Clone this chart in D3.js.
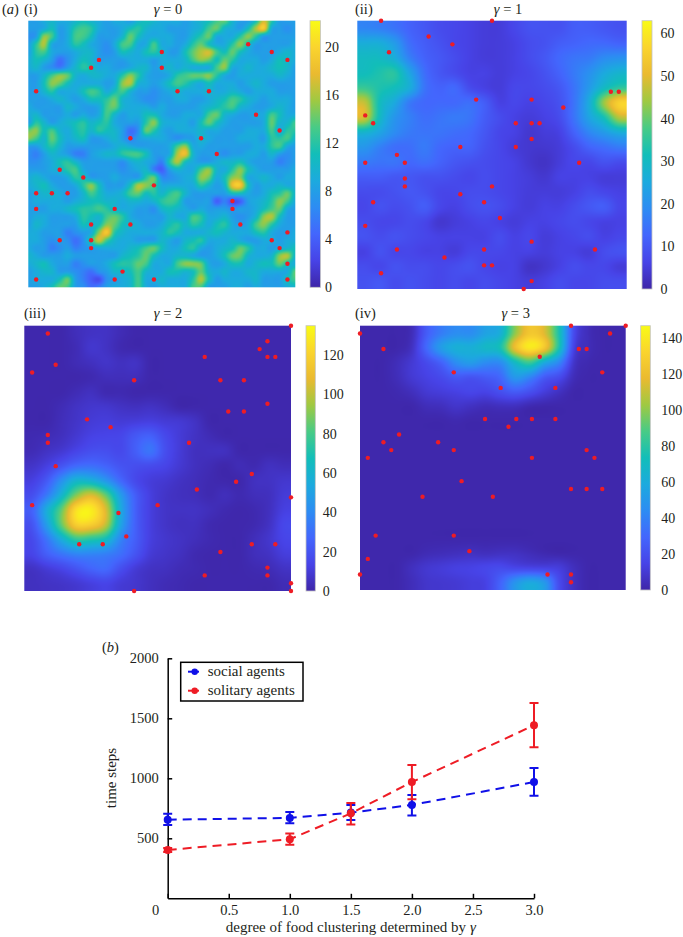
<!DOCTYPE html>
<html>
<head>
<meta charset="utf-8">
<script src="https://cdn.jsdelivr.net/npm/d3@7/dist/d3.min.js"></script>
<style>
body { margin:0; background:#fff; }
svg, .axis, .cbar { font-family:"Liberation Serif", serif; }
svg { display:block; fill:#231f20; }
.lab { font-size:14.5px; }
.cbar text { font-size:14px; fill:#231f20; }
.axis text { font-size:14.5px; fill:#231f20; }
</style>
</head>
<body>
<script>
// heat values, row 0 is the top of the panel
const heatI=[
[8,8,9,10,9,9,10,11,10,9,8,9,9,8,10,11,10,9,9,9,8,9,10,11,13,14,10,8,8,11,17,12,8,8,8],
[8,8,9,11,8,9,12,13,12,9,8,8,9,11,12,10,9,9,8,8,8,9,10,13,14,10,9,8,11,16,19,9,8,7,8],
[7,8,15,13,8,9,13,13,11,8,8,8,10,14,11,9,9,9,9,8,8,10,12,14,9,9,9,12,15,12,8,8,8,8,8],
[8,12,16,9,8,9,12,11,9,8,7,9,13,13,9,9,13,9,9,8,9,12,14,11,9,9,12,15,11,8,8,8,8,8,9],
[8,12,13,9,8,8,9,10,10,8,7,8,11,10,9,11,12,10,8,8,11,14,16,17,13,11,14,11,9,8,8,8,9,10,9],
[9,11,10,8,5,7,9,11,10,8,8,8,8,9,9,9,8,9,9,9,10,13,15,14,11,14,12,9,9,9,8,9,11,10,9],
[9,10,8,7,6,8,10,12,11,9,9,8,8,9,10,10,8,9,10,9,10,9,9,9,13,15,9,9,10,9,9,10,11,10,8],
[8,8,10,13,15,14,10,9,10,10,9,9,12,15,12,9,8,8,9,12,13,14,14,15,12,9,8,9,9,9,9,9,10,9,8],
[8,8,11,15,14,11,9,9,9,9,8,9,15,16,10,9,8,9,11,13,12,10,9,11,9,9,9,8,9,10,9,8,8,8,8],
[8,8,10,12,9,9,9,11,13,12,9,11,13,10,8,8,7,8,9,10,9,9,9,10,9,9,10,9,8,9,9,9,8,8,8],
[8,8,8,9,10,9,8,9,11,11,12,14,10,9,8,7,7,8,8,9,9,8,8,9,10,11,13,12,10,9,8,9,9,9,8],
[9,8,8,8,8,10,9,8,8,9,13,14,10,9,9,9,8,9,8,8,8,8,9,10,11,12,13,10,9,8,8,9,10,9,8],
[9,10,8,8,8,9,8,9,8,9,13,10,8,9,9,11,11,9,8,8,9,9,9,13,14,10,9,8,8,9,9,13,11,9,9],
[8,12,10,8,9,10,11,12,10,11,12,9,8,8,8,12,15,10,9,9,9,8,11,14,11,9,8,8,8,8,9,14,10,10,13],
[14,15,11,13,10,9,11,12,10,12,11,10,8,5,7,14,12,9,8,9,9,9,10,9,9,8,8,8,9,9,9,13,9,12,12],
[15,13,10,14,11,9,10,11,8,8,9,10,8,6,8,9,9,9,8,7,8,8,10,9,8,8,8,9,9,9,8,12,12,13,10],
[8,8,10,12,10,8,8,8,8,8,8,9,10,9,8,8,8,8,9,13,15,9,9,8,8,8,8,8,8,9,9,12,13,9,8],
[7,6,8,10,9,8,6,6,8,9,10,10,12,13,13,11,8,8,9,16,18,10,8,8,8,7,8,8,9,9,8,10,8,7,8],
[7,7,8,9,11,12,10,8,8,8,8,8,7,9,10,9,8,6,12,16,11,9,8,8,9,10,10,11,9,8,8,8,6,7,8],
[8,8,8,9,10,12,13,9,8,8,8,8,7,8,9,10,6,4,8,10,9,9,13,15,10,9,12,15,11,9,8,8,8,8,9],
[9,10,9,8,8,9,12,11,8,8,8,9,8,8,8,12,14,7,7,8,9,10,15,14,9,11,15,15,9,9,10,9,8,9,9],
[9,10,11,9,8,8,9,12,15,11,8,8,8,11,16,15,13,9,9,9,9,9,12,10,8,10,18,19,11,8,9,9,10,9,9],
[8,9,10,10,9,8,8,10,13,11,9,9,10,13,14,11,12,10,12,13,10,8,8,8,8,8,11,11,9,8,9,11,12,14,10],
[8,9,9,9,9,8,9,10,11,11,10,10,9,10,10,9,10,12,13,12,8,8,8,8,4,6,3,4,8,9,10,12,15,13,9],
[8,8,8,9,9,10,11,12,12,13,12,10,9,9,8,8,7,10,11,10,9,8,9,8,8,8,7,8,8,9,11,13,14,9,8],
[8,9,9,8,8,8,9,12,11,10,13,14,12,9,8,8,8,8,10,9,9,13,12,9,9,10,8,7,8,10,15,16,11,8,8],
[8,10,9,8,8,8,8,11,10,11,15,14,11,10,9,8,8,9,11,12,10,12,11,9,11,12,9,8,9,13,15,12,9,8,8],
[9,9,8,8,8,6,7,8,9,15,19,12,10,9,9,9,9,10,12,11,9,9,9,10,11,10,9,9,9,11,12,9,8,8,9],
[9,9,8,7,8,7,5,7,12,17,13,10,9,9,8,8,8,10,9,8,10,11,12,9,9,9,10,9,8,8,9,9,8,9,9],
[9,8,8,6,7,8,6,7,8,9,9,9,9,10,11,13,14,11,9,9,11,12,9,8,9,10,11,14,12,9,9,8,9,10,11],
[10,9,8,8,8,9,8,8,8,8,8,8,10,11,12,14,11,9,9,10,10,9,8,8,9,11,14,14,10,9,9,10,15,16,10],
[9,10,11,9,8,8,6,7,8,8,9,11,12,12,14,13,9,9,9,13,15,15,14,9,8,9,11,11,9,10,11,11,14,11,9],
[8,9,10,10,8,8,7,6,5,7,8,10,10,11,13,10,9,9,11,11,10,11,14,10,9,10,9,9,10,10,9,9,9,9,14],
[8,9,9,9,11,14,8,6,4,3,7,8,9,10,13,9,9,10,9,9,9,12,16,11,8,9,9,9,9,10,8,8,8,11,13],
[8,8,9,11,14,13,8,7,5,6,8,9,9,10,13,9,8,9,9,9,9,13,13,8,8,8,9,9,8,9,8,8,8,9,10]
];
const heatII=[
[18,17,15,12,10,8,7,6,5,5,7,9,9,9,11,11,10,9],
[26,26,22,14,11,9,7,6,5,5,6,8,9,11,12,13,13,12],
[30,30,26,17,12,10,8,6,5,5,6,8,10,13,15,16,19,20],
[31,33,34,24,14,10,8,6,6,5,6,7,9,12,16,20,25,28],
[36,33,31,26,15,12,13,8,6,5,7,7,8,10,15,22,30,35],
[47,31,25,16,13,13,13,14,11,6,7,6,7,9,15,26,44,56],
[48,30,21,17,14,15,16,15,11,8,6,5,6,8,15,24,32,46],
[28,24,19,16,15,15,14,13,10,7,6,4,5,6,12,18,22,26],
[21,17,14,14,16,13,12,12,9,7,5,4,4,5,8,12,14,16],
[16,15,15,13,14,12,10,9,8,7,6,4,3,5,7,7,9,8],
[11,11,10,10,9,9,8,7,8,7,6,5,4,6,6,6,5,5],
[8,8,9,10,9,7,7,8,8,7,6,5,5,5,6,8,7,6],
[7,9,8,9,11,7,6,8,9,8,6,5,6,6,8,10,11,7],
[8,7,7,8,7,4,5,6,7,6,5,6,6,7,8,7,6,6],
[9,8,9,8,7,6,6,6,6,8,6,7,5,6,7,8,6,7],
[6,9,7,7,6,6,5,7,7,7,6,6,5,6,6,5,8,9],
[8,7,9,8,8,7,8,9,7,6,6,3,4,6,8,7,7,5],
[9,10,8,9,8,7,8,7,8,7,6,5,6,8,7,7,8,8]
];
const heatIII=[
[1,1,1,4,6,6,3,1,1,1,1,1,1,1,1,1,1,1],
[1,1,1,3,8,6,2,1,1,1,1,1,1,1,1,1,1,1],
[1,1,1,3,5,7,5,6,1,1,1,1,1,1,1,1,1,1],
[1,1,1,1,2,4,4,4,1,1,1,1,1,1,1,1,1,1],
[1,1,1,3,5,2,2,1,1,1,1,1,1,1,1,1,1,1],
[1,1,3,6,8,8,6,5,6,4,1,1,1,1,1,1,1,1],
[1,1,4,7,10,11,10,11,12,10,9,6,1,1,1,1,1,1],
[2,3,5,9,13,14,15,22,25,16,10,6,3,1,1,1,1,1],
[3,6,9,14,18,18,16,24,32,18,10,5,5,5,1,1,1,1],
[7,12,20,28,30,26,20,18,17,14,9,5,3,1,3,2,5,4],
[12,22,42,60,58,45,28,16,11,9,6,4,2,1,1,5,6,8],
[18,34,60,90,105,85,48,24,12,7,5,4,2,4,2,4,5,10],
[25,55,85,125,130,105,55,25,12,7,6,6,4,2,1,2,5,12],
[20,48,85,118,118,100,52,25,12,7,5,5,2,1,1,2,6,15],
[16,32,55,75,72,65,38,24,12,8,6,4,2,1,1,4,8,14],
[14,24,32,38,38,36,30,20,10,7,5,2,1,1,1,4,6,11],
[6,10,14,20,26,28,18,10,6,5,3,2,1,1,1,2,3,6],
[5,6,7,9,12,14,10,8,5,3,2,1,1,1,1,1,1,3]
];
const heatIV=[
[1,1,1,4,25,38,45,45,55,62,100,125,115,75,18,4,1,1],
[1,1,1,6,30,52,62,62,68,75,120,140,125,75,14,4,1,1],
[1,1,4,10,18,28,45,52,45,45,70,85,60,42,8,2,1,1],
[1,1,4,10,14,18,24,22,25,30,50,42,25,18,4,1,1,1],
[1,1,2,5,10,12,14,16,15,20,25,20,12,6,1,1,1,1],
[1,1,1,1,4,5,8,6,4,5,5,2,1,1,1,1,1,1],
[1,1,1,1,1,1,2,1,1,1,1,1,1,1,1,1,1,1],
[1,1,1,1,1,1,1,1,1,1,1,1,1,1,1,1,1,1],
[1,1,1,1,1,1,1,1,1,1,1,1,1,1,1,1,1,1],
[1,1,1,1,1,1,1,1,1,1,1,1,1,1,1,1,1,1],
[1,1,1,1,1,1,1,1,1,1,1,1,1,1,1,1,1,1],
[1,1,1,1,1,1,1,1,1,1,1,1,1,1,1,1,1,1],
[1,1,1,1,1,1,1,1,1,1,1,1,1,1,1,1,1,1],
[1,1,1,1,1,1,1,1,1,1,1,1,1,1,1,1,1,1],
[1,1,1,1,1,1,1,1,1,1,1,1,1,1,1,1,1,1],
[1,1,1,1,3,4,5,6,5,6,6,4,2,1,1,1,1,1],
[1,1,1,5,9,11,13,14,16,18,16,15,14,12,5,1,1,1],
[1,1,1,4,8,9,10,12,14,28,48,58,50,18,6,1,1,1]
];

// food items on the 0..34 lattice, [column, row up from the bottom]
const foodI=[[28,31],[17,30],[31,30],[9,29],[33,29],[8,28],[17,28],[1,25],[19,25],[23,25],[29,22],[32,20],[13,19],[22,19],[24,17],[4,15],[7,14],[16,13],[1,12],[3,12],[5,12],[26,11],[1,10],[11,10],[26,10],[8,8],[13,8],[27,8],[33,7],[4,6],[8,6],[31,6],[8,5],[32,5],[33,3],[12,2],[1,1],[11,1],[16,1],[33,1]];
const foodII=[[3,34],[17,34],[9,32],[12,31],[4,30],[15,24],[22,24],[32,25],[33,25],[26,23],[1,22],[2,21],[20,21],[22,21],[23,21],[22,19],[13,18],[20,18],[5,17],[1,16],[6,16],[28,16],[6,14],[6,13],[17,13],[13,12],[2,11],[16,11],[18,9],[1,8],[22,6],[5,5],[16,5],[30,5],[11,4],[16,3],[17,3],[3,2],[22,1],[21,0]];
const foodIII=[[34,34],[3,33],[31,32],[30,31],[23,30],[31,30],[32,30],[4,29],[1,28],[14,27],[25,27],[28,27],[31,24],[26,23],[28,23],[8,22],[11,21],[3,20],[3,19],[21,19],[4,16],[29,15],[27,14],[22,13],[34,12],[1,11],[17,11],[12,10],[13,7],[7,6],[10,6],[29,6],[32,6],[25,5],[31,3],[23,2],[31,2],[34,1],[14,0],[34,0]];
const foodIV=[[27,34],[34,34],[0,33],[32,33],[3,31],[28,31],[29,31],[23,30],[12,28],[31,28],[18,26],[25,26],[16,22],[20,22],[22,22],[25,22],[19,21],[5,20],[3,19],[10,19],[4,18],[12,18],[29,18],[1,17],[22,17],[30,17],[13,14],[27,13],[29,13],[31,13],[8,12],[17,12],[2,7],[12,7],[14,5],[1,4],[0,2],[24,2],[27,2],[27,1]];

// colour bar ticks
const ticksI=[0,4,8,12,16,20];
const ticksII=[0,10,20,30,40,50,60];
const ticksIII=[0,20,40,60,80,100,120];
const ticksIV=[0,20,40,60,80,100,120,140];

// panel (b)
const gammas=[0,1,1.5,2,3];
const socialMean=[655,670,714,778,969];
const socialLow=[611,625,653,689,855];
const socialHigh=[705,720,778,861,1086];
const solitaryMean=[403,492,708,969,1442];
const solitaryLow=[385,447,614,825,1258];
const solitaryHigh=[420,539,794,1111,1628];
const xTicks=[0,0.5,1,1.5,2,2.5,3];
const yTicks=[500,1000,1500,2000];

const parula=["#3e26a8","#4743e7","#4366fd","#2d8cf3","#1caade","#12beb9","#48cb86","#9fc942","#eaba30","#fad42e","#f9fb15"];

const svgTag=d3.select("body").append("svg").attr("width",683).attr("height",937);

function colorScale(max) {
    return d3.scaleLinear()
        .domain(parula.map((c,i)=>max*i/(parula.length-1)))
        .range(parula)
        .clamp(true);
}

function cubic(a,b,c,d,t) {
    return b+0.5*t*(c-a+t*(2*a-5*b+4*c-d+t*(3*(b-c)+d-a)));
}

// sample the hand read grid at pixel resolution so colours go through the map
function heatImage(grid,max,w,h,onNodes) {
    const n=grid.length;
    const color=colorScale(max);
    const canvas=document.createElement("canvas");
    canvas.width=w; canvas.height=h;
    const ctx=canvas.getContext("2d");
    const img=ctx.createImageData(w,h);
    const at=(r,c)=>grid[Math.max(0,Math.min(n-1,r))][Math.max(0,Math.min(n-1,c))];
    const toGrid=u=>onNodes ? u*(n-1) : u*n-0.5;
    for (let py=0; py<h; py++) {
        const fy=toGrid((py+0.5)/h), r=Math.floor(fy), ty=fy-r;
        for (let px=0; px<w; px++) {
            const fx=toGrid((px+0.5)/w), c=Math.floor(fx), tx=fx-c;
            const rows=[-1,0,1,2].map(k=>cubic(at(r+k,c-1),at(r+k,c),at(r+k,c+1),at(r+k,c+2),tx));
            const rgb=d3.rgb(color(cubic(rows[0],rows[1],rows[2],rows[3],ty)));
            const o=(py*w+px)*4;
            img.data[o]=rgb.r; img.data[o+1]=rgb.g; img.data[o+2]=rgb.b; img.data[o+3]=255;
        }
    }
    ctx.putImageData(img,0,0);
    return canvas.toDataURL();
}

function drawPanel(p) {
    const x=d3.scaleLinear().domain([0,34]).range([p.x0,p.x1]);
    const y=d3.scaleLinear().domain([0,34]).range([p.y1,p.y0]);
    const w=Math.round(p.x1-p.x0), h=Math.round(p.y1-p.y0);

    svgTag.append("image")
        .attr("x",p.x0).attr("y",p.y0)
        .attr("width",p.x1-p.x0).attr("height",p.y1-p.y0)
        .attr("preserveAspectRatio","none")
        .attr("href",heatImage(p.grid,p.max,w,h,p.grid.length===35));

    svgTag.append("g").selectAll("circle").data(p.food).join("circle")
        .attr("cx",d=>x(d[0])).attr("cy",d=>y(d[1]))
        .attr("r",2.2).attr("fill","#ee1c25");

    // colour bar
    const gradId="grad"+p.id;
    const grad=svgTag.append("linearGradient").attr("id",gradId)
        .attr("x1",0).attr("x2",0).attr("y1",1).attr("y2",0);
    parula.forEach((c,i)=>grad.append("stop").attr("offset",i/(parula.length-1)).attr("stop-color",c));
    svgTag.append("rect")
        .attr("x",p.bar0).attr("y",p.y0)
        .attr("width",p.bar1-p.bar0).attr("height",p.y1-p.y0)
        .attr("fill",`url(#${gradId})`)
        .attr("stroke","#c4c4c4").attr("stroke-width",0.8);

    const barScale=d3.scaleLinear().domain([0,p.max]).range([p.y1,p.y0]);
    const barAxis=svgTag.append("g").attr("class","cbar")
        .attr("transform",`translate(${p.bar1},0)`)
        .call(d3.axisRight(barScale).tickValues(p.ticks).tickSize(0).tickPadding(p.pad));
    barAxis.select(".domain").remove();

    const title=svgTag.append("text").attr("class","lab")
        .attr("x",p.titleX).attr("y",p.labY).attr("text-anchor","middle");
    title.append("tspan").attr("font-style","italic").text("γ");
    title.append("tspan").text(" = "+p.gamma);
    svgTag.append("text").attr("class","lab").attr("x",p.labX).attr("y",p.labY).text(p.label);
}

[
    { id:"i", grid:heatI, food:foodI, ticks:ticksI, max:22.2, gamma:0, label:"(i)", x0:28.3, x1:295.3, y0:20.7, y1:287.3, bar0:310, bar1:320.5, pad:4.5, titleX:168, labX:24, labY:14 },
    { id:"ii", grid:heatII, food:foodII, ticks:ticksII, max:63, gamma:1, label:"(ii)", x0:357.3, x1:626.7, y0:20.7, y1:289, bar0:642, bar1:652, pad:8.5, titleX:508, labX:355, labY:14 },
    { id:"iii", grid:heatIII, food:foodIII, ticks:ticksIII, max:135, gamma:2, label:"(iii)", x0:24.3, x1:291, y0:325.7, y1:591, bar0:306, bar1:315.3, pad:7.5, titleX:168, labX:24, labY:318 },
    { id:"iv", grid:heatIV, food:foodIV, ticks:ticksIV, max:147, gamma:3, label:"(iv)", x0:360, x1:625.7, y0:325.7, y1:590, bar0:640.7, bar1:650.3, pad:11, titleX:515.7, labX:355, labY:318 }
].forEach(drawPanel);

const panelA=svgTag.append("text").attr("class","lab").attr("x",2).attr("y",14);
panelA.append("tspan").text("(");
panelA.append("tspan").attr("font-style","italic").text("a");
panelA.append("tspan").text(")");
const panelB=svgTag.append("text").attr("class","lab").attr("x",102).attr("y",652);
panelB.append("tspan").text("(");
panelB.append("tspan").attr("font-style","italic").text("b");
panelB.append("tspan").text(")");

// panel (b)
const xScale=d3.scaleLinear().domain([0,3]).range([167.7,534]);
const yScale=d3.scaleLinear().domain([0,2000]).range([898.3,658.3]);

const xAxisG=svgTag.append("g").attr("class","axis")
    .attr("transform",`translate(0,${yScale(0)})`)
    .call(d3.axisBottom(xScale).tickValues(xTicks).tickSizeInner(-4.5).tickSizeOuter(0).tickPadding(6)
        .tickFormat(d=>d===0?"0":d3.format(".1f")(d)));
xAxisG.selectAll(".tick text").attr("dx",d=>d===0?-12.5:0);
const yAxisG=svgTag.append("g").attr("class","axis")
    .attr("transform",`translate(${xScale(0)},0)`)
    .call(d3.axisLeft(yScale).tickValues(yTicks).tickFormat(d3.format("d")).tickSizeInner(-4.5).tickSizeOuter(0).tickPadding(9));
svgTag.selectAll(".axis path, .axis line").attr("stroke","#000").attr("stroke-width",1.5);

const seriesData=[
    { color:"#1010e8", mean:socialMean, low:socialLow, high:socialHigh },
    { color:"#ee1c25", mean:solitaryMean, low:solitaryLow, high:solitaryHigh }
];
const lineGen=d3.line().x(d=>xScale(d.x)).y(d=>yScale(d.y));
seriesData.forEach(s=>{
    const pts=gammas.map((g,i)=>({ x:g, y:s.mean[i], low:s.low[i], high:s.high[i] }));
    const g=svgTag.append("g").attr("stroke",s.color).attr("fill",s.color);
    g.append("path").datum(pts)
        .attr("d",lineGen).attr("fill","none")
        .attr("stroke-width",2).attr("stroke-dasharray","9,6");
    g.selectAll(".bar").data(pts).join("path").attr("class","bar")
        .attr("fill","none").attr("stroke-width",2)
        .attr("d",d=>`M${xScale(d.x)-4.5},${yScale(d.high)}h9M${xScale(d.x)},${yScale(d.high)}V${yScale(d.low)}M${xScale(d.x)-4.5},${yScale(d.low)}h9`);
    g.selectAll("circle").data(pts).join("circle")
        .attr("cx",d=>xScale(d.x)).attr("cy",d=>yScale(d.y))
        .attr("r",4).attr("stroke","none");
});

// legend
const legend=svgTag.append("g");
legend.append("rect")
    .attr("x",180.7).attr("y",662.3).attr("width",122.3).attr("height",38.7)
    .attr("fill","#fff").attr("stroke","#000").attr("stroke-width",1.5);
[["social agents","#1010e8",671.7],["solitary agents","#ee1c25",690.7]].forEach(([name,color,ly])=>{
    legend.append("line")
        .attr("x1",188).attr("x2",199).attr("y1",ly).attr("y2",ly)
        .attr("stroke",color).attr("stroke-width",2);
    legend.append("circle").attr("cx",194.7).attr("cy",ly).attr("r",3.2).attr("fill",color);
    legend.append("text").attr("x",207.7).attr("y",ly+4).attr("font-size",15).text(name);
});

svgTag.append("text")
    .attr("transform",`translate(115.5,778) rotate(-90)`)
    .attr("text-anchor","middle").attr("font-size",15)
    .text("time steps");
const xLabel=svgTag.append("text")
    .attr("x",350.8).attr("y",932)
    .attr("text-anchor","middle").attr("font-size",15);
xLabel.append("tspan").text("degree of food clustering determined by ");
xLabel.append("tspan").attr("font-style","italic").text("γ");
</script>
</body>
</html>
